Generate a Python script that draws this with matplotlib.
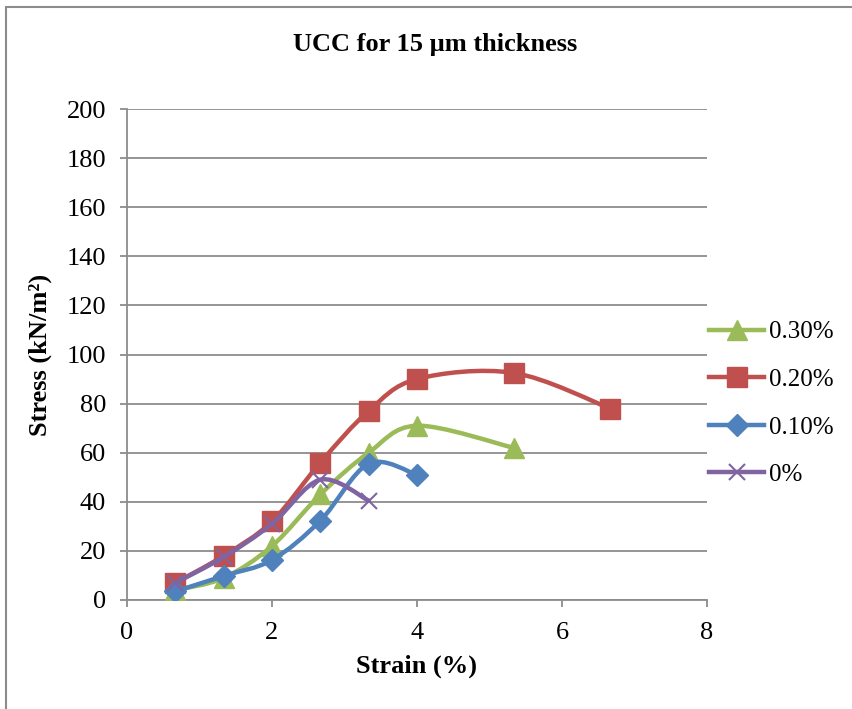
import matplotlib
matplotlib.use("Agg")
import matplotlib.pyplot as plt
from matplotlib.path import Path
from matplotlib.patches import PathPatch, Rectangle
from matplotlib.lines import Line2D

plt.rcParams['font.family'] = ['Liberation Serif', 'DejaVu Serif']

strain = [0.667, 1.333, 2.0, 2.667, 3.333, 4.0, 5.333, 6.667]
s030 = [4, 9, 22, 43, 60, 71, 62]
s020 = [7, 18, 32, 56, 77, 90, 92.5, 78]
s010 = [3.5, 9.8, 16.3, 32.3, 55.5, 51]
s000 = [7, 17.5, 31, 49, 40.5]
labels = ['0.30%', '0.20%', '0.10%', '0%']
colors = ['#9BBB59', '#C0504D', '#4F81BD', '#8064A2']
markers = ['^', 's', 'D', 'x']
msizes = [14, 14, 11.5, 12]
title = 'UCC for 15 µm thickness'
xticks = [0, 2, 4, 6, 8]
yticks = list(range(0, 201, 20))

fig = plt.figure(figsize=(8.52, 7.09), dpi=100)
ax = fig.add_axes([127/852, 1-600/709, 580/852, 491/709])

# outer chart border
fig.patches.append(Rectangle((6/852, -0.05), 1.1, 1-7/709+0.05, transform=fig.transFigure,
                             fill=False, edgecolor='#8c8c8c', linewidth=1.5))


def smooth_path(xs, ys):
    pts = list(zip(xs, ys))
    n = len(pts)
    verts = [pts[0]]
    codes = [Path.MOVETO]
    for i in range(n - 1):
        p0 = pts[i - 1] if i > 0 else pts[i]
        p1 = pts[i]
        p2 = pts[i + 1]
        p3 = pts[i + 2] if i + 2 < n else pts[i + 1]
        c1 = (p1[0] + (p2[0] - p0[0]) / 6, p1[1] + (p2[1] - p0[1]) / 6)
        c2 = (p2[0] - (p3[0] - p1[0]) / 6, p2[1] - (p3[1] - p1[1]) / 6)
        verts += [c1, c2, p2]
        codes += [Path.CURVE4] * 3
    return Path(verts, codes)


series = [s030, s020, s010, s000]
zorders = [3, 4, 5, 6]
handles = []
for ys, lab, c, m, ms, z in zip(series, labels, colors, markers, msizes, zorders):
    xs = strain[:len(ys)]
    ax.add_patch(PathPatch(smooth_path(xs, ys), facecolor='none', edgecolor=c,
                           linewidth=3.2, zorder=z, capstyle='round', joinstyle='round'))
    if m == 'x':
        ax.plot(xs, ys, linestyle='none', marker=m, markersize=ms, color=c,
                markeredgewidth=1.5, zorder=z + 0.5)
    else:
        ax.plot(xs, ys, linestyle='none', marker=m, markersize=ms, color=c,
                markeredgecolor=c, zorder=z + 0.5)
    handles.append(Line2D([], [], color=c, linewidth=3.2, marker=m, markersize=ms,
                          markeredgewidth=1.5 if m == 'x' else 1.0))

ax.set_xlim(0, 8)
ax.set_ylim(0, 200)
ax.set_xticks(xticks)
ax.set_yticks(yticks)
ax.grid(axis='y', color='#8c8c8c', linewidth=1.3)
ax.set_axisbelow(True)
for s in ['top', 'right']:
    ax.spines[s].set_visible(False)
for s in ['left', 'bottom']:
    ax.spines[s].set_color('#8c8c8c')
    ax.spines[s].set_linewidth(1.3)
ax.tick_params(axis='both', colors='#8c8c8c', length=5, width=1.3, labelsize=19,
               labelcolor='black', direction='out')
ax.tick_params(axis='x', pad=11)
ax.tick_params(axis='y', pad=10)

ax.set_xlabel('Strain (%)', fontsize=19, fontweight='bold', va='center')
ax.xaxis.set_label_coords(0.5, (600-666)/491)
ax.set_ylabel('Stress (kN/m²)', fontsize=19, fontweight='bold', va='center')
ax.yaxis.set_label_coords((40-127)/580, 0.5)
fig.text(435/852, 1-44/709, title, ha='center', va='center', fontsize=19, fontweight='bold')

fig.legend(handles, labels, loc='upper left', bbox_to_anchor=(709/852, 1-321/709),
           frameon=False, fontsize=18, handlelength=2.2, labelspacing=1.0,
           handletextpad=0.2, borderaxespad=0, borderpad=0)

fig.savefig('out.png', dpi=100)
